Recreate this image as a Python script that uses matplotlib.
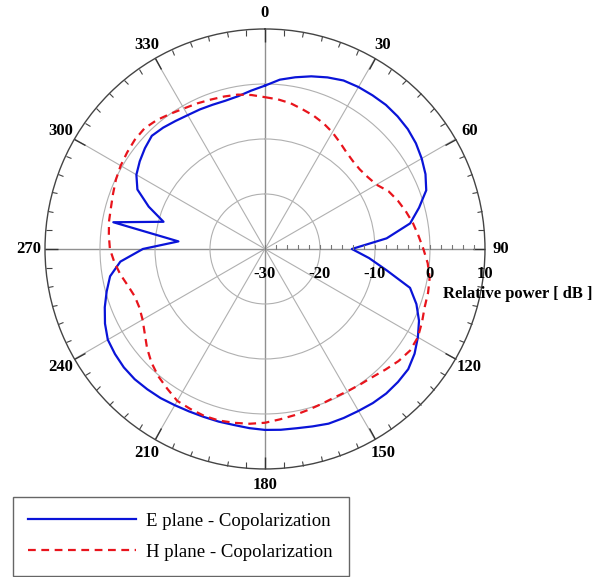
import numpy as np
import matplotlib
matplotlib.use("Agg")
import matplotlib.pyplot as plt

# radiation pattern, every 5 degrees
angles = np.arange(0, 360, 5)

e_plane = [-0.3, 0.9, 1.7, 2.5, 3.2, 3.8, 4.0, 4.1, 4.2, 4.1, 3.9, 3.5,
           2.9, 2.2, 1.2, -1.0, -3.2, -7.8, -14.2, -11.0, -7.5, -2.7, -0.7, 0.9,
           2.1, 3.2, 4.0, 4.2, 4.3, 4.2, 4.0, 3.9, 3.8, 3.4, 3.1, 3.0,
           2.9, 2.7, 2.5, 2.5, 2.5, 2.6, 2.8, 3.1, 3.3, 3.5, 3.5, 3.3,
           3.0, 2.1, 1.0, -0.2, -1.4, -3.6, -7.8, -14.2, -2.0, -10.9, -7.5, -4.4,
           -3.0, -2.2, -1.5, -0.9, -1.2, -1.6, -1.9, -2.0, -2.1, -2.1, -1.8, -1.1]

h_plane = [-2.4, -2.7, -3.1, -3.7, -4.2, -4.8, -5.5, -6.3, -7.0, -7.4, -7.5, -7.2,
           -6.6, -5.2, -4.3, -3.5, -2.7, -2.0, -1.2, -0.3, 0.4, 0.7, 0.9, 1.5,
           2.1, 2.2, 1.7, 1.0, 0.4, 0.1, -0.1, -0.2, 0.0, 0.3, 0.7, 1.1,
           1.6, 1.9, 2.1, 2.3, 2.3, 2.1, 1.9, 1.0, 0.2, -0.8, -2.0, -3.3,
           -4.3, -4.8, -4.8, -4.2, -3.3, -2.5, -1.8, -1.5, -1.2, -1.0, -0.6, -0.1,
           0.3, 0.6, 0.9, 1.0, 0.6, 0.0, -0.5, -0.8, -1.1, -1.3, -1.5, -1.9]

r_ticks = [-30, -20, -10, 0, 10]
theta_labels = list(range(0, 360, 30))

serif = ["Liberation Serif", "DejaVu Serif"]

fig = plt.figure(figsize=(6, 5.77), dpi=100)
ax = fig.add_axes([0.075, 0.1872, 0.7333, 0.7626], projection="polar")
ax.set_theta_zero_location("N")
ax.set_theta_direction(-1)
ax.set_ylim(-30, 10)

# close the curves
th = np.deg2rad(np.append(angles, angles[0]))
e = np.append(e_plane, e_plane[0])
h = np.append(h_plane, h_plane[0])
ax.plot(th, e, color="#0a14d8", lw=1.6, label="E plane - Copolarization")
ax.plot(th, h, color="#e8141c", lw=1.6, ls=(0, (3.5, 2.5)),
        label="H plane - Copolarization")

# angular grid + ticks (outer circle only)
ax.set_xticks(np.deg2rad(theta_labels))
ax.set_xticklabels([])
ax.set_xticks(np.deg2rad(np.arange(0, 360, 5)), minor=True)
ax.tick_params(axis="x", which="both", bottom=False, top=True,
               direction="in")
ax.tick_params(axis="x", which="major", length=9, width=1,
               color="#333333")
ax.tick_params(axis="x", which="minor", length=4, width=0.8,
               color="#444444")
ax.xaxis.grid(True, color="#b0b0b0", lw=0.8)
for i, gl in enumerate(ax.xaxis.get_gridlines()):
    if i % 3 == 0:
        gl.set_color("#909090")
        gl.set_linewidth(1.0)

for t in theta_labels:
    ax.text(np.deg2rad(t), 12.9, str(t), ha="center", va="center",
            family=serif, fontweight="bold", fontsize=12, clip_on=False)

# radial grid, labels drawn by hand along the 90 deg axis
ax.set_yticks(r_ticks[1:-1])
ax.set_yticklabels([])
ax.yaxis.grid(True, color="#b0b0b0", lw=0.8)
for r in r_ticks:
    ax.annotate(str(r), xy=(np.pi / 2, r), xytext=(0, -12),
                textcoords="offset points", ha="center", va="top",
                family=serif, fontweight="bold", fontsize=12)

# small ticks on the radial axis
rminor = np.arange(-30, 10, 2)
ax.plot(np.full(len(rminor), np.pi / 2), rminor, ls="none", marker=2,
        markersize=3, color="#777777", mew=0.8)

ax.spines["polar"].set_color("#444444")
ax.spines["polar"].set_linewidth(1.0)

fig.text(443 / 600, 1 - 294 / 577, "Relative power [ dB ]", family=serif,
         fontweight="bold", fontsize=12, ha="left", va="center")

leg = fig.legend(loc="upper left", bbox_to_anchor=(13 / 600, 1 - 497 / 577),
                 prop={"family": serif, "size": 13.5}, fancybox=False,
                 edgecolor="#666666", framealpha=1, handlelength=5.75,
                 handletextpad=0.55, borderpad=0.82, labelspacing=0.75,
                 borderaxespad=0)
leg.get_frame().set_linewidth(1.0)

fig.savefig("out.png", dpi=100)
